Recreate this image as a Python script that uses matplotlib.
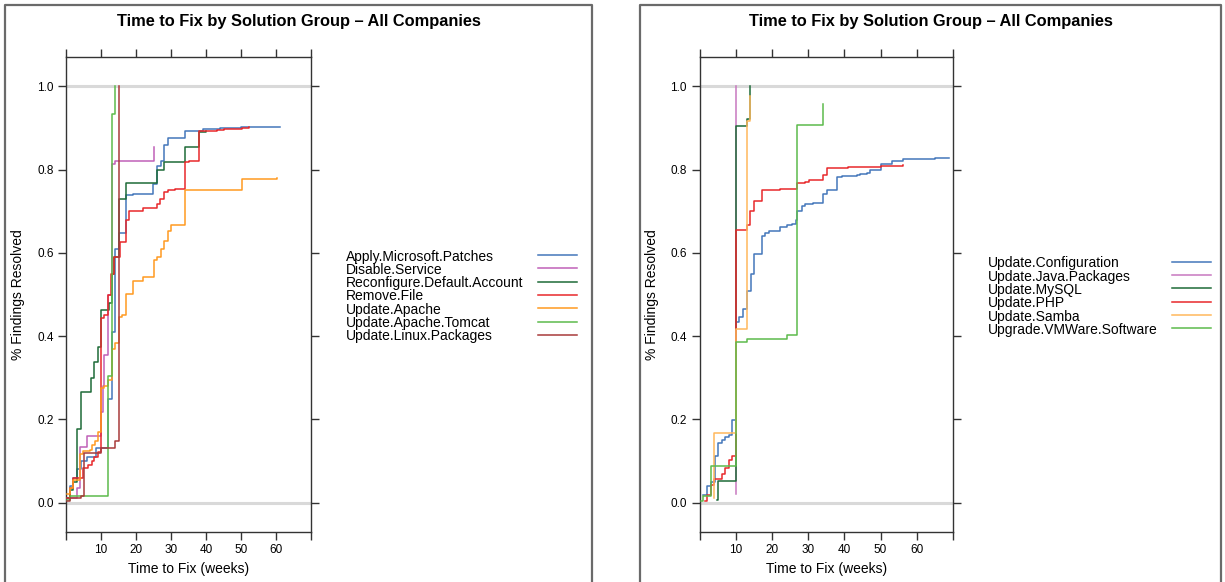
import matplotlib
matplotlib.use("Agg")
import matplotlib.pyplot as plt
from matplotlib.lines import Line2D

plt.rcParams['font.family'] = ['Liberation Sans', 'DejaVu Sans']

TITLE = "Time to Fix by Solution Group \u2013 All Companies"
XLABEL = "Time to Fix (weeks)"
YLABEL = "% Findings Resolved"
XTICKS = [0, 10, 20, 30, 40, 50, 60, 70]
XTICKLABELS = ["", "10", "20", "30", "40", "50", "60", ""]
YTICKS = [0.0, 0.2, 0.4, 0.6, 0.8, 1.0]
YTICKLABELS = ["0.0", "0.2", "0.4", "0.6", "0.8", "1.0"]

# ---------------- left panel series ----------------
left_names = ["Apply.Microsoft.Patches", "Disable.Service", "Reconfigure.Default.Account",
              "Remove.File", "Update.Apache", "Update.Apache.Tomcat", "Update.Linux.Packages"]
left_colors = ["#4477BB", "#C060B8", "#1E6B38", "#E8282B", "#FF9A20", "#5DBB4C", "#A83A3A"]

amp_x = [0.3, 1, 2, 3, 4.3, 6, 8.5, 12.1, 13, 14, 15.2, 17.05, 19, 24.9, 26.1, 27.1, 28.1, 29, 34.1, 39, 44, 50, 61]
amp_y = [0.01, 0.04, 0.06, 0.08, 0.10, 0.11, 0.13, 0.25, 0.41, 0.61, 0.648, 0.738, 0.742, 0.766, 0.808, 0.82, 0.86, 0.876, 0.894, 0.897, 0.9, 0.902, 0.903]

ds_x = [1, 3, 4, 6.1, 10, 10.5, 10.9, 11.9, 13.2, 14, 25]
ds_y = [0.01, 0.035, 0.134, 0.16, 0.218, 0.28, 0.354, 0.50, 0.813, 0.821, 0.855]

rda_x = [0.3, 1, 2, 3.05, 4.2, 7.05, 8, 9.05, 10.1, 12.4, 13.1, 13.8, 15.05, 17, 26.1, 28.1, 34.1, 38, 40]
rda_y = [0.01, 0.03, 0.05, 0.177, 0.266, 0.30, 0.338, 0.374, 0.462, 0.48, 0.55, 0.589, 0.730, 0.767, 0.80, 0.818, 0.855, 0.89, 0.893]

rf_x = [0.3, 1.1, 1.9, 4.9, 6.4, 7.3, 8, 9, 9.9, 10.9, 11.9, 12.9, 13.8, 15.5, 17, 18, 22, 26, 26.95, 28.1, 29.1, 31.1, 34, 35, 38, 43, 45, 50.2, 52.2]
rf_y = [0.01, 0.035, 0.06, 0.083, 0.09, 0.10, 0.11, 0.122, 0.443, 0.45, 0.498, 0.55, 0.59, 0.627, 0.68, 0.70, 0.708, 0.718, 0.73, 0.746, 0.75, 0.754, 0.818, 0.822, 0.893, 0.896, 0.898, 0.901, 0.902]

ua_x = [0.2, 1.1, 2.1, 4, 4.95, 6.9, 7.3, 8.3, 9.05, 9.9, 10.9, 11.9, 13.05, 14, 15.1, 16.1, 17, 19, 22.1, 25, 26.1, 27.1, 28.1, 29, 30.1, 34, 47.3, 50.2, 60.2]
ua_y = [0.02, 0.035, 0.055, 0.116, 0.124, 0.126, 0.138, 0.149, 0.17, 0.275, 0.28, 0.294, 0.37, 0.384, 0.446, 0.45, 0.502, 0.533, 0.541, 0.584, 0.589, 0.61, 0.628, 0.653, 0.666, 0.75, 0.752, 0.778, 0.779]

uat_x = [0.4, 1.0, 12.1, 13.05, 14]
uat_y = [0.005, 0.016, 0.305, 0.933, 1.0]

ulp_x = [0.3, 1, 4.2, 5, 9.9, 14, 15]
ulp_y = [0.003, 0.01, 0.015, 0.12, 0.13, 0.148, 1.0]

left_x = [amp_x, ds_x, rda_x, rf_x, ua_x, uat_x, ulp_x]
left_y = [amp_y, ds_y, rda_y, rf_y, ua_y, uat_y, ulp_y]

# ---------------- right panel series ----------------
right_names = ["Update.Configuration", "Update.Java.Packages", "Update.MySQL",
               "Update.PHP", "Update.Samba", "Upgrade.VMWare.Software"]
right_colors = ["#4477BB", "#C878C0", "#1E6B38", "#E8282B", "#FFB85C", "#5DBB4C"]

uc_x = [1.05, 2.15, 3.1, 4.3, 5.2, 6.1, 7.05, 8.15, 9.07, 10, 11, 12.1, 13.0, 14.1, 15.1, 17.2, 18.1, 19.2, 22.2, 24.1, 25.5, 26.7, 27.0, 28.2, 29.1, 31.3, 34, 35.1, 37.9, 39.3, 43.4, 44.3, 46.2, 47.1, 50.1, 53.1, 54.9, 56.3, 65.1, 69]
uc_y = [0.018, 0.04, 0.05, 0.112, 0.144, 0.15, 0.157, 0.162, 0.198, 0.434, 0.445, 0.466, 0.508, 0.55, 0.598, 0.641, 0.648, 0.653, 0.662, 0.668, 0.67, 0.678, 0.70, 0.712, 0.718, 0.72, 0.742, 0.75, 0.782, 0.785, 0.786, 0.79, 0.792, 0.798, 0.814, 0.821, 0.822, 0.825, 0.827, 0.828]

ujp_x = [10.0, 10.05]
ujp_y = [0.02, 1.0]

ums_x = [4.9, 5.0, 10.1, 13.0, 13.9]
ums_y = [0.005, 0.052, 0.904, 0.921, 1.0]

uphp_x = [1.6, 2.0, 3.1, 4.1, 6.1, 7.0, 8.15, 9.07, 10, 13.0, 13.95, 15.05, 17.2, 19.5, 22.2, 27, 29.1, 30.2, 34, 35.1, 41.1, 50.1, 56.1]
uphp_y = [0.003, 0.018, 0.042, 0.056, 0.069, 0.082, 0.102, 0.112, 0.656, 0.666, 0.70, 0.724, 0.75, 0.752, 0.753, 0.768, 0.771, 0.774, 0.786, 0.805, 0.806, 0.808, 0.81]

us_x = [4.0, 4.1, 10, 13.0, 13.95]
us_y = [0.01, 0.166, 0.416, 0.916, 0.976]

uvm_x = [0.5, 1.05, 3.1, 10, 13.2, 24.1, 27, 34.2]
uvm_y = [0.003, 0.015, 0.088, 0.385, 0.394, 0.402, 0.908, 0.958]

right_x = [uc_x, ujp_x, ums_x, uphp_x, us_x, uvm_x]
right_y = [uc_y, ujp_y, ums_y, uphp_y, us_y, uvm_y]

# ---------------- figure ----------------
W, H = 1225, 582
fig = plt.figure(figsize=(W / 100, H / 100), dpi=100)


def fx(px):
    return px / W


def fy(py):
    return 1 - py / H


AX_TOP, AX_BOT = 57.3, 531.7
FRAME_COLOR = "#6a6a6a"
AXIS_COLOR = "#333333"


def make_panel(ax_left, ax_right, frame_l, frame_r, xs, ys, names, colors, leg_text_x, leg_line_x, leg_y0, ylab_x):
    ax = fig.add_axes([fx(ax_left), fy(AX_BOT), fx(ax_right) - fx(ax_left), fy(AX_TOP) - fy(AX_BOT)])
    ax.set_xlim(0, 70)
    ax.set_ylim(-0.07, 1.07)
    ax.axhline(0, color="#d9d9d9", lw=2.2, zorder=1)
    ax.axhline(1, color="#d9d9d9", lw=2.2, zorder=1)
    for x, y, c in zip(xs, ys, colors):
        ax.step(x, y, where="post", color=c, lw=1.1, zorder=3)
    ax.set_xticks(XTICKS)
    ax.set_xticklabels(XTICKLABELS)
    ax.set_yticks(YTICKS)
    ax.set_yticklabels(YTICKLABELS)
    ax.tick_params(direction="out", length=6, width=1.0, labelsize=8.5, top=True, right=True,
                   labeltop=False, labelright=False, color=AXIS_COLOR, pad=3)
    for s in ax.spines.values():
        s.set_color(AXIS_COLOR)
        s.set_linewidth(1.0)
    ax.set_xlabel(XLABEL, fontsize=10, labelpad=4)
    # y label
    fig.text(fx(ylab_x), fy((AX_TOP + AX_BOT) / 2), YLABEL, rotation=90, ha="center", va="center", fontsize=10)
    # title
    fig.text(fx((frame_l + frame_r) / 2), fy(21.5), TITLE, ha="center", va="center", fontsize=11.8, fontweight="bold")
    # frame
    fig.add_artist(Line2D([fx(frame_l), fx(frame_l), fx(frame_r), fx(frame_r)],
                          [0, fy(4.5), fy(4.5), 0], color=FRAME_COLOR, lw=1.6))
    # legend
    for i, (n, c) in enumerate(zip(names, colors)):
        yy = fy(leg_y0 + 13.33 * i)
        fig.text(fx(leg_text_x), yy, n, ha="left", va="center_baseline", fontsize=10)
        fig.add_artist(Line2D([fx(leg_line_x[0]), fx(leg_line_x[1])], [yy, yy], color=c, lw=1.1))
    return ax


make_panel(66, 311, 5, 592, left_x, left_y, left_names, left_colors, 346, (538, 577), 255, 18)
make_panel(699.5, 953, 640, 1221, right_x, right_y, right_names, right_colors, 988, (1172, 1211), 261.7, 652)

fig.savefig("out.png", dpi=100)
